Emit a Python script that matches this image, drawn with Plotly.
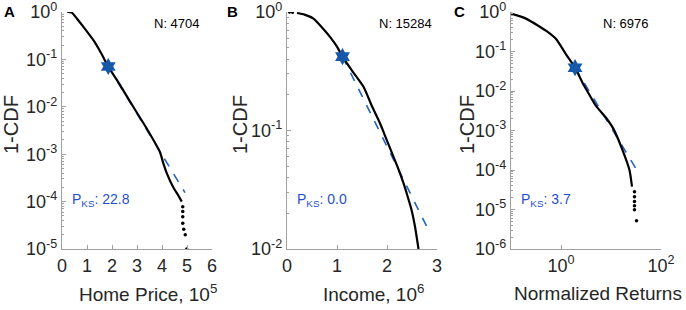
import numpy as np
import plotly.graph_objects as go

# ---------------- data ----------------
# Panel A: Home price (units of 1e5), 1-CDF
a_line_x = [0.21, 0.39, 0.6, 0.85, 1.25, 1.55, 1.85, 2.3, 2.85, 3.4, 3.92, 4.05, 4.19, 4.45, 4.65, 4.79]
a_line_y = [1.0, 0.97, 0.72, 0.49, 0.257, 0.14, 0.0708, 0.030, 0.010, 3.4e-3, 1.1e-3, 6.5e-4, 4.0e-4, 2.0e-4, 1.35e-4, 1.0e-4]
a_dots_x = [4.83, 4.83, 4.83, 4.83, 4.87, 4.93, 4.99]
a_dots_y = [7.8e-5, 6.2e-5, 4.8e-5, 3.5e-5, 2.6e-5, 2.0e-5, 1.0e-5]
a_fit_x = [1.85, 4.92]
a_fit_y = [0.0708, 1.55e-4]
a_star = (1.85, 0.0708)
a_n = "N: 4704"
a_pks = "22.8"

# Panel B: Income (units of 1e6), 1-CDF
b_dots_x = [0.05, 0.11]
b_dots_y = [1.0, 0.995]
b_line_x = [0.20, 0.35, 0.53, 0.7, 0.86, 1.0, 1.11, 1.3, 1.53, 1.7, 1.86, 2.0, 2.13, 2.23, 2.33, 2.41, 2.49, 2.56, 2.63]
b_line_y = [0.98, 0.95, 0.88, 0.74, 0.617, 0.51, 0.42, 0.32, 0.234, 0.16, 0.115, 0.082, 0.060, 0.047, 0.0359, 0.028, 0.0214, 0.0155, 0.010]
b_fit_x = [1.11, 2.79]
b_fit_y = [0.42, 0.0156]
b_star = (1.11, 0.42)
b_n = "N: 15284"
b_pks = "0.0"

# Panel C: Normalized returns, 1-CDF (log-log)
c_line_x = [0.10, 0.19, 0.35, 0.55, 0.79, 1.26, 1.91, 2.69, 3.6, 5.01, 7.94, 11.2, 17.0, 23.4, 26.3]
c_line_y = [0.91, 0.70, 0.45, 0.31, 0.21, 0.085, 0.0389, 0.0162, 8.5e-3, 4.2e-3, 2.1e-3, 1.1e-3, 3.2e-4, 1.0e-4, 3.8e-5]
c_dots_x = [29.5, 29.5, 29.5, 29.5, 29.5, 32.4]
c_dots_y = [2.8e-5, 2.1e-5, 1.6e-5, 1.25e-5, 9.8e-6, 5.2e-6]
c_fit_x = [1.91, 33.9]
c_fit_y = [0.0389, 9.3e-5]
c_star = (1.91, 0.0389)
c_n = "N: 6976"
c_pks = "3.7"

a_xticks = [0, 1, 2, 3, 4, 5, 6]
b_xticks = [0, 1, 2, 3]
c_xticks = [1, 100]
c_xticktext = ["10<sup>0</sup>", "10<sup>2</sup>"]

# ---------------- styling ----------------
W, H = 686, 310
BLACK = "#000000"
STAR = "#1659a8"
FIT = "#2563c0"
TXT_BLUE = "#1f4fd0"
AXC = "#a0a0a0"
LBL = "#262626"
FONT = "Liberation Sans, Arial, sans-serif"

def px(x):
    return x / W

def py(y):
    return 1 - y / H

ydom = [py(249), py(12)]
xdoms = [[px(62), px(212)], [px(287), px(437)], [px(511), px(661)]]

def logticks(lo, hi):
    vals = [10.0 ** k for k in range(lo, hi + 1)]
    txt = ["10<sup>%d</sup>" % k for k in range(lo, hi + 1)]
    minor = [m * 10.0 ** k for k in range(lo, hi) for m in range(2, 10)]
    return vals, txt, minor

fig = go.Figure()

def add_panel(i, lx, ly, dx, dy, fx, fy, star):
    xa = "x" if i == 1 else "x%d" % i
    ya = "y" if i == 1 else "y%d" % i
    fig.add_trace(go.Scatter(x=fx, y=fy, mode="lines", xaxis=xa, yaxis=ya,
                             line=dict(color=FIT, width=1.6, dash="dash"), showlegend=False))
    fig.add_trace(go.Scatter(x=lx, y=ly, mode="lines", xaxis=xa, yaxis=ya,
                             line=dict(color=BLACK, width=2.2, shape="spline", smoothing=0.6),
                             showlegend=False))
    if dx:
        fig.add_trace(go.Scatter(x=dx, y=dy, mode="markers", xaxis=xa, yaxis=ya,
                                 marker=dict(color=BLACK, size=3.5), showlegend=False))
    fig.add_trace(go.Scatter(x=[star[0]], y=[star[1]], mode="markers", xaxis=xa, yaxis=ya,
                             marker=dict(symbol="hexagram", color=STAR, size=13,
                                         line=dict(width=0)), showlegend=False))

add_panel(1, a_line_x, a_line_y, a_dots_x, a_dots_y, a_fit_x, a_fit_y, a_star)
add_panel(2, b_line_x, b_line_y, b_dots_x, b_dots_y, b_fit_x, b_fit_y, b_star)
add_panel(3, c_line_x, c_line_y, c_dots_x, c_dots_y, c_fit_x, c_fit_y, c_star)

common = dict(showline=True, linecolor=AXC, linewidth=1.3, ticks="inside", ticklen=4,
              tickcolor=AXC, tickwidth=1, showgrid=False, zeroline=False, automargin=False,
              ticklabeloverflow="allow",
              tickfont=dict(family=FONT, size=18, color=LBL), mirror=False)

ya_v, ya_t, ya_m = logticks(-5, 0)
yb_v, yb_t, yb_m = logticks(-2, 0)
yc_v, yc_t, yc_m = logticks(-6, 0)

def yaxis(dom, rng, vals, txt, minor, anchor):
    return dict(common, domain=dom, type="log", range=rng, tickmode="array",
                tickvals=vals, ticktext=txt, anchor=anchor,
                minor=dict(tickmode="array", tickvals=minor, ticks="inside", ticklen=2,
                           tickcolor=AXC, tickwidth=1))

fig.update_layout(
    width=W, height=H, margin=dict(l=0, r=0, t=0, b=0, autoexpand=False),
    paper_bgcolor="white", plot_bgcolor="white",
    xaxis=dict(common, domain=xdoms[0], range=[0, 6], tickmode="array", tickvals=a_xticks, anchor="y"),
    xaxis2=dict(common, domain=xdoms[1], range=[0, 3], tickmode="array", tickvals=b_xticks, anchor="y2"),
    xaxis3=dict(common, domain=xdoms[2], type="log", range=[-1, 2], tickmode="array",
                tickvals=c_xticks, ticktext=c_xticktext, anchor="y3"),
    yaxis=yaxis(ydom, [-5, 0], ya_v, ya_t, ya_m, "x"),
    yaxis2=yaxis(ydom, [-2, 0], yb_v, yb_t, yb_m, "x2"),
    yaxis3=yaxis(ydom, [-6, 0], yc_v, yc_t, yc_m, "x3"),
)

anns = []
def ann(text, x, y, size, color=LBL, xanchor="center", angle=0, bold=False):
    t = "<b>%s</b>" % text if bold else text
    anns.append(dict(text=t, x=px(x), y=py(y), xref="paper", yref="paper",
                     xanchor=xanchor, yanchor="middle", showarrow=False, textangle=angle,
                     font=dict(family=FONT, size=size, color=color)))

# panel letters
ann("A", 9, 11, 15, BLACK, bold=True)
ann("B", 233, 11, 15, BLACK, bold=True)
ann("C", 459, 11, 15, BLACK, bold=True)
# y titles
ann("1-CDF", 11, 125, 20, LBL, angle=-90)
ann("1-CDF", 240, 125, 20, LBL, angle=-90)
ann("1-CDF", 467, 125, 20, LBL, angle=-90)
# x titles
ann("Home Price, 10<sup>5</sup>", 77, 293, 19, xanchor="left")
ann("Income, 10<sup>6</sup>", 321, 293, 19, xanchor="left")
ann("Normalized Returns", 512, 293, 19, xanchor="left")
# N labels
ann(a_n, 177, 24, 13, BLACK)
ann(b_n, 405, 24, 13, BLACK)
ann(c_n, 626, 24, 13, BLACK)
# P_KS labels
for x0, v in [(70, a_pks), (295, b_pks), (519, c_pks)]:
    ann("P<sub>KS</sub>: %s" % v, x0, 200, 14, TXT_BLUE, xanchor="left")

fig.update_layout(annotations=anns)
fig.write_html("out.html", config={"displayModeBar": False},
               post_script="document.body.style.margin='0';")
